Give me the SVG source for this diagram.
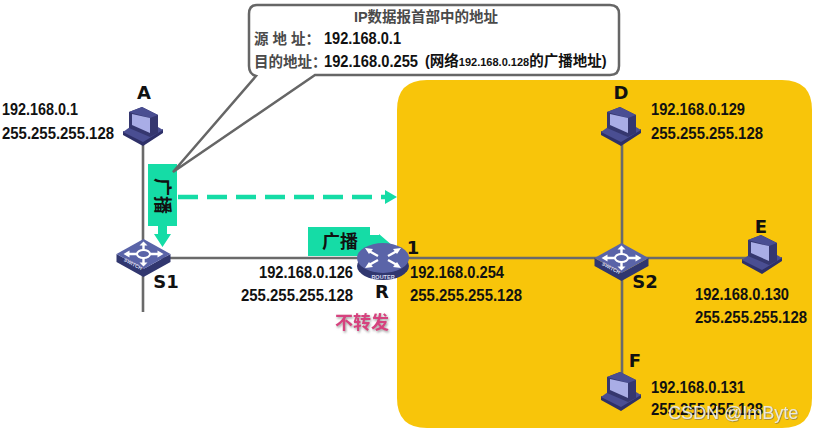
<svg xmlns="http://www.w3.org/2000/svg" width="817" height="435" viewBox="0 0 817 435">
<style>
text{font-family:"Liberation Sans","Noto Sans CJK SC",sans-serif;fill:#111}
.ip{font-size:16.300px;font-weight:bold}
.lbl{font-size:18px;font-weight:bold;font-family:"DejaVu Sans",sans-serif}
.ln{stroke:#6a6a6a;stroke-width:2.6;fill:none}
.g{fill:#15dca6}
.cap{font-size:14.500px;font-weight:bold;fill:#4a4a4a}
.ar{stroke:#fff;stroke-width:2.4;fill:none}
.hd{fill:#fff}
</style>
<defs>
<filter id="sh" x="-10%" y="-20%" width="125%" height="150%"><feDropShadow dx="1" dy="1.500" stdDeviation="1" flood-color="#888" flood-opacity=".8"/></filter>
<filter id="wm" x="-5%" y="-20%" width="110%" height="150%"><feDropShadow dx=".6" dy=".6" stdDeviation=".5" flood-color="#555" flood-opacity=".9"/></filter>
<g id="pc">
<path d="M-21 10 L-1 21 L19 8 L19 4 L-1 16 L-21 6Z" fill="#2e3068"/>
<path d="M-21 7 L-14 2 L14 2 L19 5 L-1 17Z" fill="#4a4e92"/>
<path d="M-15 -13 L-2 -18 L14 -10 L14 8 L6 12 L-15 3Z" fill="#35376f"/>
<path d="M-15 -13 L-2 -18 L14 -10 L6 -7Z" fill="#4a4e92"/>
<path d="M-12 -11 L6 -7 L6 8 L-12 0Z" fill="#a9ade6"/>
</g>
<g id="sw">
<path d="M-27 0 L0 15 L27 0 L27 8 L0 23 L-27 8Z" fill="#31376f"/>
<path d="M-27 0 L0 -15 L27 0 L0 15Z" fill="#5a64a8"/>
<path class="ar" d="M-16 0H-6M6 0H16M0 -10V-4M0 4V10"/>
<path class="hd" d="M-20 0L-14 -3.500V3.500ZM20 0L14 -3.500V3.500ZM0 -12.500L-4 -8.500H4ZM0 12.500L-4 8.500H4Z"/>
<ellipse cx="0" cy="0" rx="6.500" ry="4" fill="#5a64a8" stroke="#fff" stroke-width="2"/>
<text x="-20" y="7" font-size="5" font-weight="bold" transform="rotate(28 -20 7)" style="fill:#d8dbf0">SWITCH</text>
</g>
</defs>
<path id="zone" d="M427 80H782Q812 80 812 110V398Q812 428 782 428H427Q397 428 397 398V110Q397 80 427 80Z" fill="#f8c50a"/>
<g id="connectors">
<path class="ln" d="M143 140V312M143 258H622M622 140V380M622 258H750"/>
<path d="M178 197H385" stroke="#15dca6" stroke-width="4.500" stroke-dasharray="20 9" fill="none"/>
<path class="g" d="M385 190L397 197L385 204Z"/>
<path class="g" d="M158 226H167V234H171L162.500 247L154 234H158Z"/>
<path class="g" d="M368 235H379V234L393 246L379 248H368Z"/>
</g>
<g id="A"><use href="#pc" x="144" y="125"/><text class="lbl" x="144" y="99" text-anchor="middle">A</text>
<text class="ip" x="2" y="115" textLength="76" lengthAdjust="spacingAndGlyphs">192.168.0.1</text><text class="ip" x="2" y="139" textLength="112" lengthAdjust="spacingAndGlyphs">255.255.255.128</text></g>
<g id="S1"><use href="#sw" x="143.500" y="254"/><text class="lbl" x="166" y="288" text-anchor="middle">S1</text></g>
<g id="broadcast-v"><rect class="g" x="148" y="164" width="29" height="62"/>
<text x="162" y="196" font-size="18" font-weight="bold" text-anchor="middle" transform="rotate(90 162 196)" dy="6">广播</text></g>
<g id="broadcast-h"><rect class="g" x="308" y="227" width="62" height="29"/>
<text x="340" y="248" font-size="18" font-weight="bold" text-anchor="middle">广播</text></g>
<g id="R"><ellipse cx="383" cy="266" rx="26" ry="14" fill="#31376f"/><ellipse cx="383" cy="258" rx="26" ry="15" fill="#5a64a8"/>
<path class="ar" d="M369 251L378 256M397 251L388 256M369 265L378 260M397 265L388 260"/>
<path class="hd" d="M365 248L373 249L369 254ZM401 248L393 249L397 254ZM365 268L373 267L369 262ZM401 268L393 267L397 262Z"/>
<text x="383" y="279" font-size="5.500" font-weight="bold" text-anchor="middle" style="fill:#d8dbf0">ROUTER</text>
<text class="lbl" x="382" y="298" text-anchor="middle">R</text>
<text class="lbl" x="413" y="254" text-anchor="middle">1</text></g>
<text class="ip" x="259" y="278" textLength="94" lengthAdjust="spacingAndGlyphs">192.168.0.126</text>
<text class="ip" x="241" y="301" textLength="112" lengthAdjust="spacingAndGlyphs">255.255.255.128</text>
<text class="ip" x="410" y="278" textLength="94" lengthAdjust="spacingAndGlyphs">192.168.0.254</text>
<text class="ip" x="410" y="301" textLength="112" lengthAdjust="spacingAndGlyphs">255.255.255.128</text>
<text x="362" y="329" font-size="18" font-weight="bold" text-anchor="middle" filter="url(#sh)" style="fill:#d6437f">不转发</text>
<g id="D"><use href="#pc" x="622" y="125"/><text class="lbl" x="621" y="99" text-anchor="middle">D</text>
<text class="ip" x="651" y="115" textLength="94" lengthAdjust="spacingAndGlyphs">192.168.0.129</text><text class="ip" x="651" y="139" textLength="112" lengthAdjust="spacingAndGlyphs">255.255.255.128</text></g>
<g id="S2"><use href="#sw" x="621.500" y="258"/><text class="lbl" x="645" y="288" text-anchor="middle">S2</text></g>
<g id="E"><use href="#pc" x="763" y="253"/><text class="lbl" x="761" y="233" text-anchor="middle">E</text>
<text class="ip" x="695" y="300" textLength="94" lengthAdjust="spacingAndGlyphs">192.168.0.130</text><text class="ip" x="695" y="323" textLength="112" lengthAdjust="spacingAndGlyphs">255.255.255.128</text></g>
<g id="F"><use href="#pc" x="622" y="390"/><text class="lbl" x="635" y="367" text-anchor="middle">F</text>
<text class="ip" x="651" y="393" textLength="94" lengthAdjust="spacingAndGlyphs">192.168.0.131</text><text class="ip" x="651" y="415" textLength="112" lengthAdjust="spacingAndGlyphs">255.255.255.128</text></g>
<g id="callout"><path d="M257 5H610Q619 5 619 14V66Q619 75 610 75H315L173 172L256 76Q249 74 249 66V14Q249 5 257 5Z" fill="#fff" stroke="#666" stroke-width="2.500"/>
<text class="cap" x="426" y="22" text-anchor="middle">IP数据报首部中的地址</text>
<text class="cap" x="254" y="44">源 地 址：</text><text class="ip" x="324" y="44" textLength="77" lengthAdjust="spacingAndGlyphs">192.168.0.1</text>
<text class="cap" x="254" y="67">目的地址：</text><text class="ip" x="324" y="67" textLength="94" lengthAdjust="spacingAndGlyphs">192.168.0.255</text>
<text x="425" y="66" font-size="14.500" font-weight="bold">(网络<tspan font-size="11">192.168.0.128</tspan>的广播地址)</text></g>
<text id="watermark" x="668" y="419" font-size="18" filter="url(#wm)" style="fill:#f2f2f2;fill-opacity:.85">CSDN @ImByte</text>
</svg>
